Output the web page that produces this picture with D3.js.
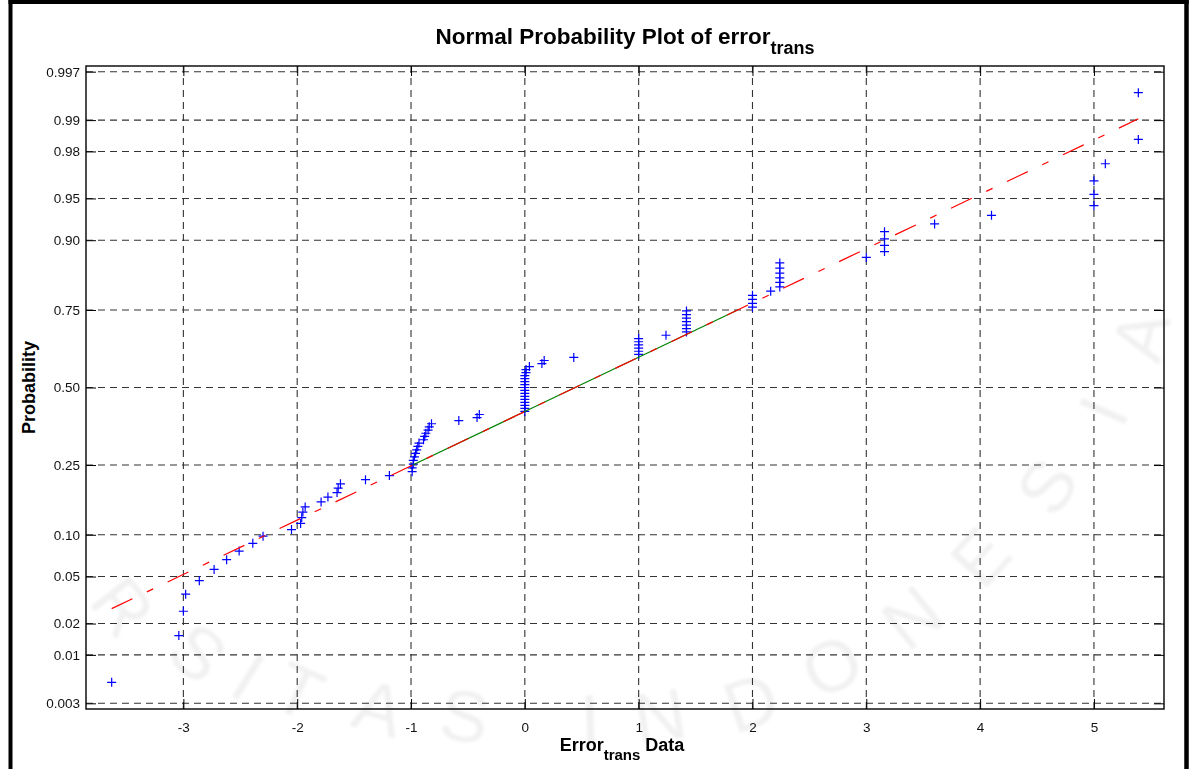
<!DOCTYPE html>
<html><head><meta charset="utf-8">
<script src="https://cdn.jsdelivr.net/npm/d3@7"></script>
<style>
html,body{margin:0;padding:0;background:#fff;}
svg{display:block;}
text{font-family:"Liberation Sans",Arial,Helvetica,sans-serif;}
</style></head><body>
<svg id="chart" width="1193" height="769"></svg>
<script>
// Sorted observations of error_trans
const errorTrans = [
  -3.63, -3.04, -3.00, -2.98, -2.86, -2.73, -2.62, -2.51, -2.39, -2.30,
  -2.05, -1.97, -1.96, -1.95, -1.93, -1.79, -1.73, -1.65, -1.64, -1.62,
  -1.40, -1.19,
  -0.99, -0.99, -0.98, -0.98, -0.97, -0.96, -0.95, -0.94, -0.93,
  -0.89, -0.88, -0.87, -0.85, -0.84, -0.82,
  -0.58, -0.42, -0.40,
  0.00, 0.00, 0.00, 0.00, 0.00, 0.00, 0.00, 0.00, 0.00, 0.00,
  0.00, 0.00, 0.00, 0.01, 0.01,
  0.04, 0.15, 0.17, 0.43,
  1.00, 1.00, 1.00, 1.00, 1.00, 1.00,
  1.24,
  1.42, 1.42, 1.42, 1.42, 1.42, 1.42, 1.42,
  2.00, 2.00, 2.00, 2.00,
  2.16,
  2.24, 2.24, 2.24, 2.24, 2.24, 2.24,
  3.00,
  3.16, 3.16, 3.16, 3.16,
  3.60, 4.10,
  5.00, 5.00, 5.00,
  5.10, 5.39, 5.39
];

// Probability ticks on the normal-quantile axis
const probTickValues = [0.003, 0.01, 0.02, 0.05, 0.10, 0.25, 0.50, 0.75, 0.90, 0.95, 0.98, 0.99, 0.997];
const probTickLabels = ["0.003", "0.01", "0.02", "0.05", "0.10", "0.25", "0.50", "0.75", "0.90", "0.95", "0.98", "0.99", "0.997"];
const xTickValues = [-3, -2, -1, 0, 1, 2, 3, 4, 5];
const xTickLabels = ["-3", "-2", "-1", "0", "1", "2", "3", "4", "5"];

// Lower / upper quartile of the data that anchor the reference line
const quartileX = [-0.985, 1.87];
const quartileP = [0.25, 0.75];

// Letters of the seal lettering behind the plot: [letter, x, y, angle]
const sealLetters = [
  ["R", 103, 622, 52], ["S", 182, 672, 40], ["I", 235, 698, 32], ["T", 288, 714, 25],
  ["A", 372, 732, 16], ["S", 461, 741, 8],
  ["I", 591, 745, -2], ["N", 664, 741, -9], ["D", 759, 726, -19], ["O", 844, 688, -29],
  ["N", 928, 637, -39], ["E", 999, 574, -48], ["S", 1068, 500, -57], ["I", 1126, 421, -66], ["A", 1165, 342, -75]
];

// Inverse of the standard normal CDF (Acklam's rational approximation)
function norminv(p) {
  const a = [-3.969683028665376e+01, 2.209460984245205e+02, -2.759285104469687e+02, 1.383577518672690e+02, -3.066479806614716e+01, 2.506628277459239e+00];
  const b = [-5.447609879822406e+01, 1.615858368580409e+02, -1.556989798598866e+02, 6.680131188771972e+01, -1.328068155288572e+01];
  const c = [-7.784894002430293e-03, -3.223964580411365e-01, -2.400758277161838e+00, -2.549732539343734e+00, 4.374664141464968e+00, 2.938163982698783e+00];
  const d = [7.784695709041462e-03, 3.224671290700398e-01, 2.445134137142996e+00, 3.754408661907416e+00];
  const pl = 0.02425, ph = 1 - pl;
  let q, r;
  if (p < pl) {
    q = Math.sqrt(-2 * Math.log(p));
    return (((((c[0]*q+c[1])*q+c[2])*q+c[3])*q+c[4])*q+c[5]) / ((((d[0]*q+d[1])*q+d[2])*q+d[3])*q+1);
  }
  if (p <= ph) {
    q = p - 0.5; r = q * q;
    return (((((a[0]*r+a[1])*r+a[2])*r+a[3])*r+a[4])*r+a[5])*q / (((((b[0]*r+b[1])*r+b[2])*r+b[3])*r+b[4])*r+1);
  }
  q = Math.sqrt(-2 * Math.log(1 - p));
  return -(((((c[0]*q+c[1])*q+c[2])*q+c[3])*q+c[4])*q+c[5]) / ((((d[0]*q+d[1])*q+d[2])*q+d[3])*q+1);
}

const W = 1193, H = 769;
const box = {left: 86, right: 1164, top: 66, bottom: 709};
const font = '"Liberation Sans", Arial, Helvetica, sans-serif';

const svg = d3.select("#chart");
svg.append("rect").attr("width", W).attr("height", H).attr("fill", "#fff");

// faint seal lettering in the background, tops of the letters toward the seal centre
const defs = svg.append("defs");
defs.append("filter").attr("id", "soft").append("feGaussianBlur").attr("stdDeviation", 1.6);
svg.append("g").attr("filter", "url(#soft)")
  .selectAll("text").data(sealLetters).join("text")
  .attr("transform", d => `translate(${d[1]},${d[2]}) rotate(${d[3]})`)
  .attr("text-anchor", "middle")
  .attr("font-family", "'DejaVu Sans', sans-serif")
  .attr("font-size", 72)
  .attr("fill", "#f1f1f1")
  .text(d => d[0]);

// data positions
const n = errorTrans.length;
const pts = errorTrans.map((v, i) => ({x: v, z: norminv((i + 0.5) / n)}));
const xmin = d3.min(errorTrans), xmax = d3.max(errorTrans);
const xr = xmax - xmin;

const x = d3.scaleLinear()
  .domain([xmin - 0.025 * xr, xmax + 0.025 * xr])
  .range([box.left, box.right]);
const y = d3.scaleLinear()
  .domain([norminv(0.25 / n), norminv(1 - 0.25 / n)])
  .range([box.bottom, box.top]);

const zTicks = probTickValues.map(norminv);
const g = svg.append("g");

// grid
const grid = g.append("g").attr("stroke", "#333").attr("stroke-width", 1.1).attr("stroke-dasharray", "7,5");
grid.selectAll("line.h").data(zTicks).join("line")
  .attr("x1", box.left).attr("x2", box.right)
  .attr("y1", d => y(d)).attr("y2", d => y(d));
grid.selectAll("line.v").data(xTickValues).join("line")
  .attr("x1", d => x(d)).attr("x2", d => x(d))
  .attr("y1", box.bottom).attr("y2", box.top);

// axes with inward ticks on all four sides
const tk = 10;
const axL = g.append("g").attr("transform", `translate(${box.left},0)`)
  .call(d3.axisLeft(y).tickValues(zTicks).tickFormat((d, i) => probTickLabels[i])
    .tickSizeInner(-tk).tickSizeOuter(0).tickPadding(6));
const axR = g.append("g").attr("transform", `translate(${box.right},0)`)
  .call(d3.axisRight(y).tickValues(zTicks).tickFormat("").tickSizeInner(-tk).tickSizeOuter(0));
const axB = g.append("g").attr("transform", `translate(0,${box.bottom})`)
  .call(d3.axisBottom(x).tickValues(xTickValues).tickFormat((d, i) => xTickLabels[i])
    .tickSizeInner(-tk).tickSizeOuter(0).tickPadding(13));
const axT = g.append("g").attr("transform", `translate(0,${box.top})`)
  .call(d3.axisTop(x).tickValues(xTickValues).tickFormat("").tickSizeInner(-tk).tickSizeOuter(0));
[axL, axR, axB, axT].forEach(a => {
  a.select(".domain").remove();
  a.selectAll(".tick line").attr("stroke", "#000").attr("stroke-width", 1);
  a.selectAll("text").attr("font-family", font).attr("font-size", 13.5).attr("fill", "#111");
});

// box
g.append("rect")
  .attr("x", box.left).attr("y", box.top)
  .attr("width", box.right - box.left).attr("height", box.bottom - box.top)
  .attr("fill", "none").attr("stroke", "#000").attr("stroke-width", 1.4);

// data markers
g.append("g").selectAll("path").data(pts).join("path")
  .attr("d", d => `M${x(d.x) - 4.5},${y(d.z)}H${x(d.x) + 4.5}M${x(d.x)},${y(d.z) - 4.5}V${y(d.z) + 4.5}`)
  .attr("stroke", "#0000ff").attr("stroke-width", 1.2).attr("fill", "none");

// reference line through the quartiles
const qz = quartileP.map(norminv);
const slope = (qz[1] - qz[0]) / (quartileX[1] - quartileX[0]);
const cx = (quartileX[0] + quartileX[1]) / 2, cz = (qz[0] + qz[1]) / 2;
g.append("line")
  .attr("x1", x(quartileX[0])).attr("y1", y(qz[0]))
  .attr("x2", x(quartileX[1])).attr("y2", y(qz[1]))
  .attr("stroke", "#008000").attr("stroke-width", 1.2);
g.append("line")
  .attr("x1", x(xmin)).attr("y1", y(cz + slope * (xmin - cx)))
  .attr("x2", x(xmax)).attr("y2", y(cz + slope * (xmax - cx)))
  .attr("stroke", "#ff0000").attr("stroke-width", 1.2)
  .attr("stroke-dasharray", "23,16,7,16");

// title
const title = svg.append("text").attr("x", (box.left + box.right) / 2).attr("y", 44)
  .attr("text-anchor", "middle").attr("font-family", font).attr("font-weight", "bold")
  .attr("font-size", 22.5).attr("fill", "#000");
title.append("tspan").text("Normal Probability Plot of error");
title.append("tspan").attr("font-size", 18).attr("dy", 10).text("trans");

// x label
const xl = svg.append("text").attr("x", (box.left + box.right) / 2 - 3).attr("y", 751)
  .attr("text-anchor", "middle").attr("font-family", font).attr("font-weight", "bold")
  .attr("font-size", 18).attr("fill", "#000");
xl.append("tspan").text("Error");
xl.append("tspan").attr("font-size", 15).attr("dy", 9).text("trans");
xl.append("tspan").attr("dy", -9).text(" Data");

// y label
svg.append("text").attr("transform", `translate(35,${(box.top + box.bottom) / 2}) rotate(-90)`)
  .attr("text-anchor", "middle").attr("font-family", font).attr("font-weight", "bold")
  .attr("font-size", 18).attr("fill", "#000").text("Probability");

// figure frame
const frame = svg.append("g").attr("stroke", "#000").attr("fill", "none");
frame.append("line").attr("x1", 10.5).attr("x2", 10.5).attr("y1", 0).attr("y2", H).attr("stroke-width", 4);
frame.append("line").attr("x1", 1186.5).attr("x2", 1186.5).attr("y1", 0).attr("y2", H).attr("stroke-width", 4.5);
frame.append("line").attr("x1", 8.5).attr("x2", 1188.7).attr("y1", 2).attr("y2", 2).attr("stroke-width", 4);
</script>
</body></html>
